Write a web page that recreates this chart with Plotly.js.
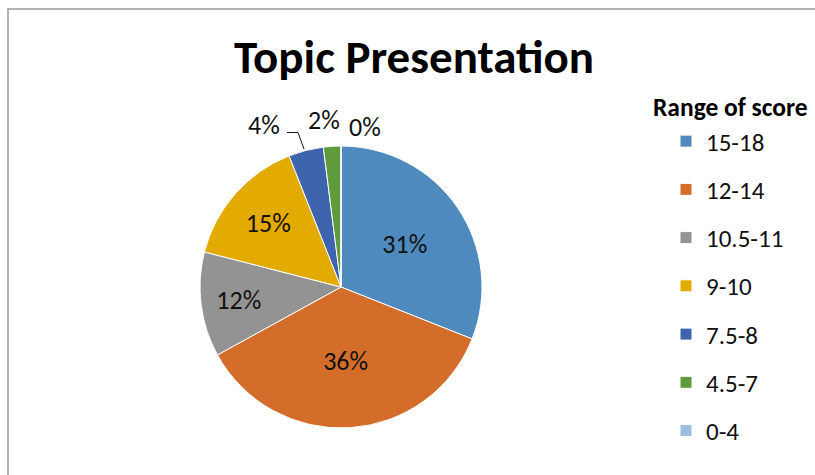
<!DOCTYPE html>
<html>
<head>
<meta charset="utf-8">
<script src="https://cdn.plot.ly/plotly-3.0.1.min.js"></script>
<style>
  html, body { margin: 0; padding: 0; background: #fff; }
  #chart { width: 815px; height: 475px; }
</style>
</head>
<body>
<div id="chart"></div>
<script>
const chartTitle = "Topic Presentation";
const legendTitle = "Range of score";
const categories = ["15-18", "12-14", "10.5-11", "9-10", "7.5-8", "4.5-7", "0-4"];
const shares = [31, 36, 12, 15, 4, 2, 0];
const sliceColors = ["#4F8ABE", "#D56D2A", "#939393", "#E3AA00", "#3D64AD", "#5F9A3D", "#9DBDE1"];
const textPositions = ["inside", "inside", "inside", "inside", "none", "none", "none"];

const FONT = "Carlito, Lato, 'Liberation Sans', sans-serif";
const legendLabels = categories.map(c =>
  '<span style="font-size:25px;baseline-shift:4px">' + c + '</span>');

const trace = {
  type: "pie",
  values: shares,
  labels: legendLabels,
  sort: false,
  direction: "clockwise",
  rotation: 0,
  marker: { colors: sliceColors, line: { color: "#ffffff", width: 1 } },
  texttemplate: "%{value}%",
  textinfo: "text",
  textposition: textPositions,
  insidetextorientation: "horizontal",
  textfont: { family: FONT, size: 26, color: "#111111" },
  hoverinfo: "label+percent",
  domain: { x: [200 / 815, 482 / 815], y: [1 - 428 / 475, 1 - 146 / 475] },
  showlegend: true
};

// small-slice labels placed outside the pie, as in the original
const outsideLabelPos = [[264, 125], [324, 120], [365, 127]];
const outsideAnnotations = [4, 5, 6].map((idx, k) => ({
  text: shares[idx] + "%",
  xref: "paper", yref: "paper",
  x: outsideLabelPos[k][0] / 815, xanchor: "center",
  y: 1 - outsideLabelPos[k][1] / 475, yanchor: "middle",
  showarrow: false,
  font: { family: FONT, size: 26, color: "#111111" }
}));

const layout = {
  width: 815,
  height: 475,
  margin: { l: 0, r: 0, t: 0, b: 0 },
  paper_bgcolor: "#ffffff",
  plot_bgcolor: "#ffffff",
  font: { family: FONT, color: "#111111" },
  title: {
    text: "<b>" + chartTitle + "</b>",
    font: { family: FONT, size: 47, color: "#000000" },
    x: 414 / 815, xanchor: "center", xref: "paper",
    y: 1 - 57 / 475, yanchor: "middle", yref: "paper"
  },
  showlegend: true,
  legend: {
    x: 666 / 815, xanchor: "left",
    y: 1 - 112 / 475, yanchor: "top",
    font: { family: FONT, size: 34.8, color: "#111111" },
    bgcolor: "rgba(0,0,0,0)",
    traceorder: "normal"
  },
  annotations: [{
    text: "<b>" + legendTitle + "</b>",
    xref: "paper", yref: "paper",
    x: 651 / 815, xanchor: "left",
    y: 1 - 108 / 475, yanchor: "middle",
    showarrow: false,
    font: { family: FONT, size: 25.5, color: "#000000" }
  }].concat(outsideAnnotations),
  shapes: [{
    type: "rect", xref: "paper", yref: "paper",
    x0: 8 / 815, x1: 1.2, y0: -0.2, y1: 1 - 9 / 475,
    line: { color: "#9a9a9a", width: 1.5 },
    fillcolor: "rgba(0,0,0,0)"
  }, {
    type: "path", xref: "paper", yref: "paper",
    path: "M " + (287 / 815) + " " + (1 - 132.5 / 475) +
          " L " + (298 / 815) + " " + (1 - 132.5 / 475) +
          " L " + (304 / 815) + " " + (1 - 149 / 475),
    line: { color: "#111111", width: 1 }
  }]
};

Plotly.newPlot("chart", [trace], layout, { displayModeBar: false, staticPlot: true });
</script>
</body>
</html>
